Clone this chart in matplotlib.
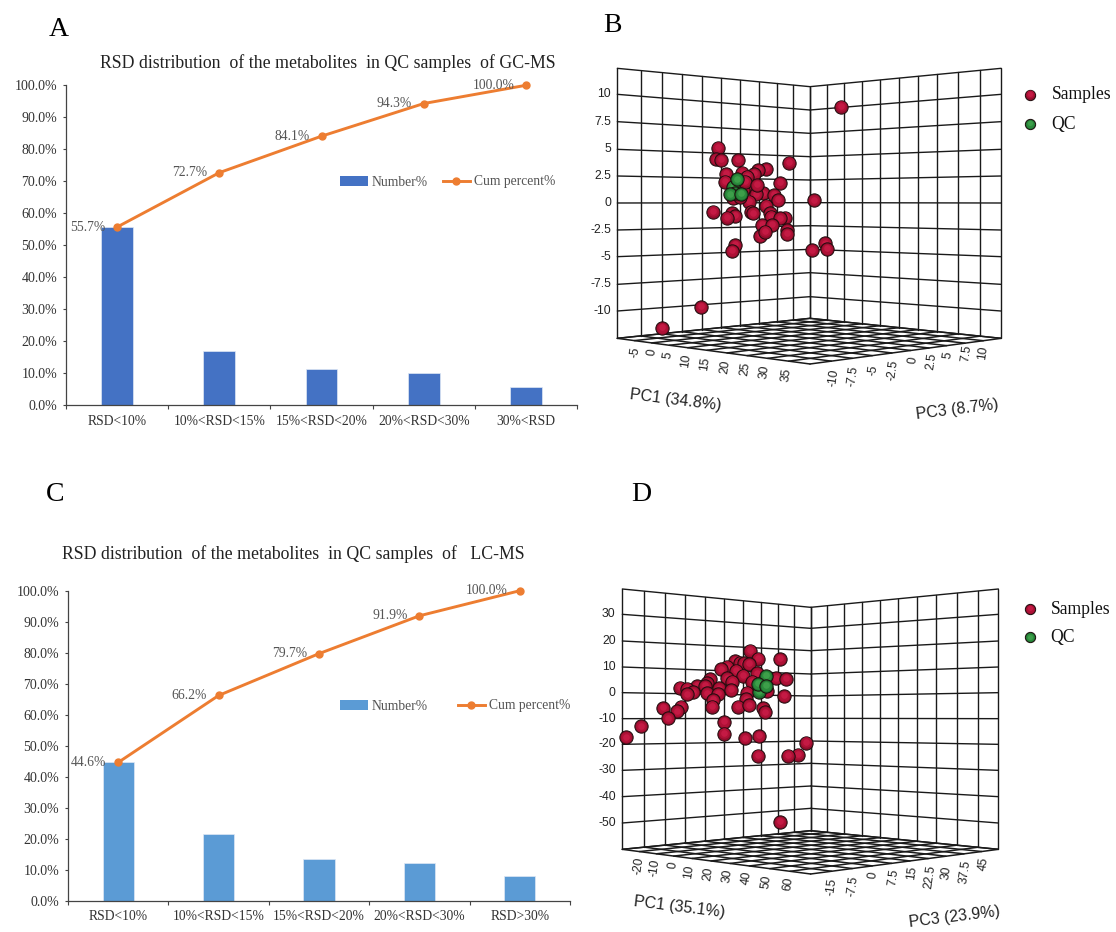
"""RSD distribution bars and PCA score panels, four panel figure."""

import matplotlib
matplotlib.use("Agg")
import matplotlib.pyplot as plt
import numpy as np
from matplotlib.lines import Line2D
from matplotlib.patches import Patch

W, H = 1116, 932
SERIF = "Liberation Serif"
SANS = "Liberation Sans"

# ── Bar chart data ────────────────────────────────────────────────────────────
cats_a = ["RSD<10%", "10%<RSD<15%", "15%<RSD<20%", "20%<RSD<30%", "30%<RSD"]
number_a = [55.7, 17.0, 11.4, 10.2, 5.7]
cum_a = [55.7, 72.7, 84.1, 94.3, 100.0]

cats_c = ["RSD<10%", "10%<RSD<15%", "15%<RSD<20%", "20%<RSD<30%", "RSD>30%"]
number_c = [44.6, 21.6, 13.5, 12.2, 8.1]
cum_c = [44.6, 66.2, 79.7, 91.9, 100.0]

# ── Score plot data (projected positions) ─────────────────────────────────────
samples_b_x = [724, 355, 348, 362, 414, 567, 498, 474, 425, 378, 462, 442, 375,
               415, 541, 450, 430, 490, 522, 468, 405, 535, 643, 447, 497, 453,
               460, 339, 395, 405, 381, 510, 512, 555, 540, 485, 517, 560, 560,
               480, 495, 406, 396, 675, 637, 680, 303, 186, 435, 470, 400, 420]
samples_b_y = [170, 293, 328, 330, 330, 338, 357, 360, 368, 372, 372, 380, 395,
               395, 399, 412, 420, 430, 435, 433, 440, 450, 451, 455, 467, 485,
               490, 485, 490, 498, 503, 490, 500, 503, 505, 525, 525, 540, 552,
               558, 545, 585, 603, 580, 601, 597, 771, 834, 395, 405, 445, 440]
qc_b_x = [400, 405, 412, 390, 422]
qc_b_y = [410, 430, 388, 433, 432]

samples_d_x = [450, 475, 539, 405, 420, 432, 447, 380, 362, 408, 470, 430, 330,
               382, 527, 558, 320, 395, 455, 290, 315, 240, 260, 358, 392, 280,
               262, 320, 355, 500, 442, 552, 338, 438, 335, 243, 188, 415, 447,
               488, 495, 230, 203, 372, 124, 78, 373, 435, 477, 618, 593, 564,
               474, 541]
samples_d_y = [272, 296, 297, 303, 308, 310, 312, 320, 328, 332, 340, 347, 358,
               355, 355, 357, 370, 365, 365, 378, 378, 383, 386, 385, 390, 397,
               403, 400, 402, 393, 398, 408, 420, 418, 440, 440, 444, 440, 436,
               445, 457, 454, 475, 486, 499, 532, 521, 535, 528, 548, 584, 587,
               587, 786]
qc_d_x = [490, 476, 497, 473, 498]
qc_d_y = [365, 395, 348, 372, 378]

pc2_ticks_b = ["10", "7.5", "5", "2.5", "0", "-2.5", "-5", "-7.5", "-10"]
pc1_ticks_b = ["-5", "0", "5", "10", "15", "20", "25", "30", "35"]
pc3_ticks_b = ["-10", "-7.5", "-5", "-2.5", "0", "2.5", "5", "7.5", "10"]

pc2_ticks_d = ["30", "20", "10", "0", "-10", "-20", "-30", "-40", "-50"]
pc1_ticks_d = ["-20", "-10", "0", "10", "20", "30", "40", "50", "60"]
pc3_ticks_d = ["-15", "-7.5", "0", "7.5", "15", "22.5", "30", "37.5", "45"]

fig = plt.figure(figsize=(W / 100, H / 100), dpi=100)
fig.patch.set_facecolor("white")


def px_axes(x0, y0, x1, y1):
    return fig.add_axes([x0 / W, 1 - y1 / H, (x1 - x0) / W, (y1 - y0) / H])


def bar_panel(box, cats, number, cum, color, title, title_xy, legend_xy, col_space):
    ax = px_axes(*box)
    pos = np.arange(len(cats))
    ax.bar(pos, number, width=0.31, color=color, edgecolor="#dfe8f5", linewidth=0.5)
    ax.plot(pos, cum, color="#ED7D31", lw=2.1, marker="o", ms=5, zorder=3, clip_on=False)
    for p, c in zip(pos, cum):
        ax.annotate(f"{c:.1f}%", xy=(p, c), xytext=(-8.4, 0),
                    textcoords="offset points", ha="right", va="center",
                    fontsize=9.8, family=SERIF, color="#555555", zorder=4)
    ax.set_xlim(-0.5, len(cats) - 0.5)
    ax.set_ylim(0, 100)
    ax.set_yticks(np.arange(0, 101, 10))
    ax.set_yticklabels([f"{v:.1f}%" for v in np.arange(0, 101, 10)],
                       fontsize=10, family=SERIF, color="#333333")
    ax.set_xticks(pos)
    ax.set_xticklabels(cats, fontsize=9.8, family=SERIF, color="#333333")
    ax.set_xticks(np.arange(len(cats) + 1) - 0.5, minor=True)
    ax.tick_params(axis="x", which="major", length=0, pad=7)
    ax.tick_params(axis="x", which="minor", length=3, width=0.8, color="#444444")
    ax.tick_params(axis="y", length=2.5, width=0.8, color="#444444", pad=3.8)
    for side in ("top", "right"):
        ax.spines[side].set_visible(False)
    for side in ("left", "bottom"):
        ax.spines[side].set_linewidth(0.9)
        ax.spines[side].set_color("#444444")
    fig.text(title_xy[0] / W, 1 - title_xy[1] / H, title, ha="center", va="center",
             fontsize=12.8, family=SERIF, color="#222222")
    handles = [Patch(facecolor=color, label="Number%"),
               Line2D([], [], color="#ED7D31", lw=2.1, marker="o", ms=5,
                      label="Cum percent%")]
    leg = ax.legend(handles=handles, ncol=2, frameon=False, loc="center",
                    bbox_to_anchor=(legend_xy[0] / W, 1 - legend_xy[1] / H),
                    bbox_transform=fig.transFigure, borderpad=0, borderaxespad=0,
                    handlelength=2.0, handletextpad=0.3, columnspacing=col_space,
                    prop={"family": SERIF, "size": 9.8})
    for t in leg.get_texts():
        t.set_color("#555555")
    return ax


def sphere(ax, x, y, shades, s, z):
    ax.scatter([x], [y], s=s, color=shades[0], edgecolor="#1c0c0c", linewidth=0.7,
               zorder=z, clip_on=False)
    ax.scatter([x], [y - 1], s=s * 0.62, color=shades[1], linewidth=0,
               zorder=z, clip_on=False)
    ax.scatter([x], [y - 2], s=s * 0.25, color=shades[2], linewidth=0,
               zorder=z, clip_on=False)


RED = ("#8f0d2c", "#ae1136", "#c41a44")
GREEN = ("#1d6b2e", "#2b8a3c", "#3d9f4a")


def seg(ax, x0, y0, x1, y1, lw=1.0):
    ax.plot([x0, x1], [y0, y1], color="#1a1a1a", lw=lw, zorder=1,
            solid_capstyle="round")


def score_panel(box, g, samples, qc, pc2_ticks, pc1_ticks, pc3_ticks, pc1_label,
                pc3_label, legend_ys, legend_xs):
    ax = px_axes(*box)
    ax.set_xlim(0, (box[2] - box[0]) * 3)
    ax.set_ylim((box[3] - box[1]) * 3, 0)
    ax.axis("off")

    left_x, right_x = g["left_x"], g["right_x"]
    xl, xc, xr = left_x[0], left_x[-1], right_x[-1]
    top_l, bot_l = g["edge_y"][0], g["edge_y"][-1]
    top_c, bot_c = g["centre_y"][0], g["centre_y"][-1]

    # back walls, horizontal rungs
    for ye, yc in zip(g["edge_y"], g["centre_y"]):
        seg(ax, xl, ye, xc, yc)
        seg(ax, xc, yc, xr, ye)

    # back walls, verticals
    for x in left_x:
        f = (x - xl) / (xc - xl)
        seg(ax, x, top_l + f * (top_c - top_l), x, bot_l + f * (bot_c - bot_l))
    for x in right_x:
        f = (xr - x) / (xr - xc)
        seg(ax, x, top_l + f * (top_c - top_l), x, bot_l + f * (bot_c - bot_l))

    # floor
    front_y = g["front_y"]
    for xb, xf in zip(left_x, g["front_right_x"]):
        yb = bot_l + (xb - xl) / (xc - xl) * (bot_c - bot_l)
        yf = front_y + (xf - xc) / (xr - xc) * (bot_l - front_y)
        seg(ax, xb, yb, xf, yf, lw=1.1)
    for xb, xf in zip(right_x, g["front_left_x"]):
        yb = bot_l + (xr - xb) / (xr - xc) * (bot_c - bot_l)
        yf = front_y + (xc - xf) / (xc - xl) * (bot_l - front_y)
        seg(ax, xb, yb, xf, yf, lw=1.1)

    # tick labels
    for lab, y in zip(pc2_ticks, g["edge_y"][1:-1]):
        ax.text(g["pc2_label_x"], y, lab, ha="right", va="center",
                fontsize=8.8, family=SANS, color="#222222")
    for lab, (x, y) in zip(pc1_ticks, g["pc1_label_xy"]):
        ax.text(x, y, lab, ha="center", va="center", rotation=82,
                fontsize=8.8, family=SANS, color="#222222")
    for lab, (x, y) in zip(pc3_ticks, g["pc3_label_xy"]):
        ax.text(x, y, lab, ha="center", va="center", rotation=82,
                fontsize=8.8, family=SANS, color="#222222")
    ax.text(*g["pc1_title_xy"], pc1_label, ha="center", va="center", rotation=-7,
            fontsize=11.5, family=SANS, color="#222222")
    ax.text(*g["pc3_title_xy"], pc3_label, ha="center", va="center", rotation=7,
            fontsize=11.5, family=SANS, color="#222222")

    # points
    z = 5
    for x, y in zip(*samples):
        sphere(ax, x, y, RED, 92, z)
        z += 1
    for x, y in zip(*qc):
        sphere(ax, x, y, GREEN, 92, z)
        z += 1

    # legend
    sphere(ax, legend_xs[0], legend_ys[0], RED, 55, z)
    sphere(ax, legend_xs[0], legend_ys[1], GREEN, 55, z)
    ax.text(legend_xs[1], legend_ys[0], "Samples", ha="left", va="center",
            fontsize=12.7, family=SERIF, color="#111111")
    ax.text(legend_xs[1], legend_ys[1], "QC", ha="left", va="center",
            fontsize=12.7, family=SERIF, color="#111111")
    return ax


# ── Panel A ───────────────────────────────────────────────────────────────────
bar_panel((66, 85.3, 577, 405.3), cats_a, number_a, cum_a, "#4472C4",
          "RSD distribution  of the metabolites  in QC samples  of GC-MS",
          (328, 63), (448, 182), 1.1)

# ── Panel C ───────────────────────────────────────────────────────────────────
bar_panel((68, 590.7, 570, 900.7), cats_c, number_c, cum_c, "#5B9BD5",
          "RSD distribution  of the metabolites  in QC samples  of   LC-MS",
          (293, 554), (455.5, 706), 2.2)

# ── Panel B ───────────────────────────────────────────────────────────────────
geom_b = dict(
    left_x=[52, 122, 185, 245, 305, 364, 420, 476, 530, 580, 630],
    right_x=[630, 680, 732, 785, 840, 897, 953, 1012, 1075, 1140, 1203],
    edge_y=[55, 133, 215, 298, 378, 459, 540, 620, 703, 783, 865],
    centre_y=[110, 180, 250, 320, 390, 458, 527, 598, 668, 740, 805],
    front_y=942,
    front_left_x=[52, 103, 155, 208, 263, 321, 381, 441, 503, 566, 630],
    front_right_x=[630, 694, 757, 817, 876, 932, 987, 1040, 1095, 1150, 1203],
    pc2_label_x=33,
    pc1_label_xy=[(105, 906), (155, 908), (205, 916), (258, 934), (315, 941),
                  (375, 950), (435, 957), (495, 967), (560, 975)],
    pc3_label_xy=[(700, 984), (760, 980), (820, 960), (880, 960), (940, 932),
                  (995, 935), (1045, 916), (1100, 910), (1150, 910)],
    pc1_title_xy=(226, 1050),
    pc3_title_xy=(1072, 1077),
)
score_panel((600, 50, 1116, 440), geom_b, (samples_b_x, samples_b_y),
            (qc_b_x, qc_b_y), pc2_ticks_b, pc1_ticks_b, pc3_ticks_b,
            "PC1 (34.8%)", "PC3 (8.7%)", (134, 222), (1291, 1355))

# ── Panel D ───────────────────────────────────────────────────────────────────
geom_d = dict(
    left_x=[67, 133, 195, 254, 314, 372, 428, 482, 533, 583, 632],
    right_x=[632, 682, 733, 785, 840, 895, 950, 1008, 1070, 1133, 1195],
    edge_y=[87, 163, 243, 321, 398, 476, 553, 631, 710, 789, 868],
    centre_y=[142, 205, 272, 342, 408, 475, 543, 610, 678, 745, 812],
    front_y=942,
    front_left_x=[67, 118, 169, 221, 276, 333, 390, 448, 509, 570, 632],
    front_right_x=[632, 695, 757, 817, 875, 930, 985, 1038, 1092, 1145, 1195],
    pc2_label_x=47,
    pc1_label_xy=[(115, 918), (165, 925), (218, 915), (268, 935), (325, 941),
                  (383, 948), (440, 955), (500, 967), (565, 973)],
    pc3_label_xy=[(695, 980), (760, 980), (820, 945), (880, 953), (935, 940),
                  (990, 950), (1040, 938), (1095, 935), (1150, 912)],
    pc1_title_xy=(237, 1042),
    pc3_title_xy=(1065, 1070),
)
score_panel((600, 560, 1116, 932), geom_d, (samples_d_x, samples_d_y),
            (qc_d_x, qc_d_y), pc2_ticks_d, pc1_ticks_d, pc3_ticks_d,
            "PC1 (35.1%)", "PC3 (23.9%)", (147, 232), (1289, 1352))

# ── Panel letters ─────────────────────────────────────────────────────────────
for letter, x, y in [("A", 59, 30), ("B", 612, 26), ("C", 55, 494), ("D", 641, 494)]:
    fig.text(x / W, 1 - y / H, letter, ha="center", va="center",
             fontsize=20, family=SERIF, color="black")

plt.savefig("out.png", dpi=100, facecolor="white")
print("Saved: out.png")
